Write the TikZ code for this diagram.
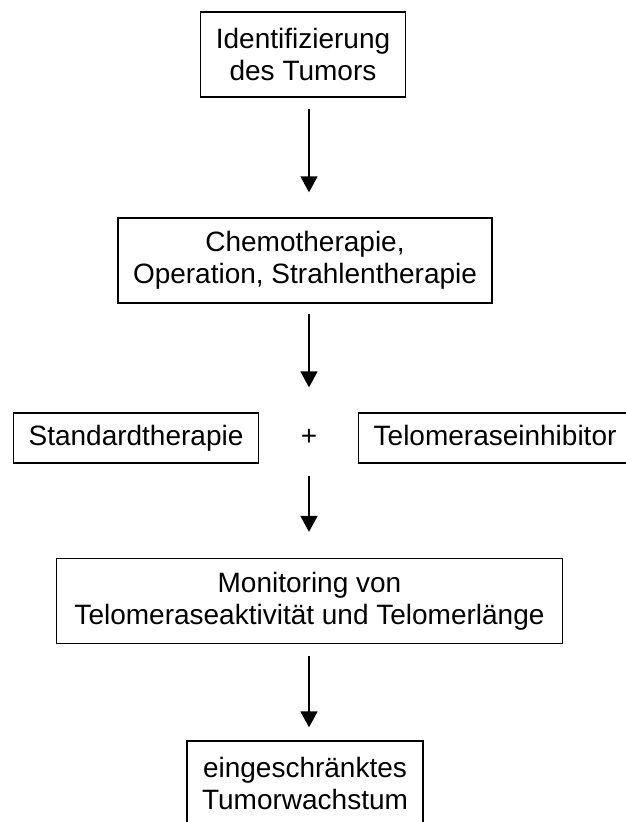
\documentclass[tikz,border=0pt]{standalone}
\usepackage{fontspec}
\setmainfont{Liberation Sans}
\usetikzlibrary{arrows.meta}

\tikzset{
    kasten/.style={draw, line width=1.3pt, align=center, inner xsep=15pt, inner ysep=0pt,
        font=\fontsize{28}{32}\selectfont},
    einzeilig/.style={kasten, minimum height=50pt, text height=20pt, text depth=6pt},
    pfeil/.style={-{Triangle[width=17pt,length=16pt]}, line width=1.5pt},
}

\begin{document}
\begin{tikzpicture}[x=1pt,y=-1pt]

    % Rahmen
    \useasboundingbox (0,0) rectangle (626,822);

    % Kaesten
    \node[kasten, minimum height=85pt] (ident) at (303,54.5) {Identifizierung\\des Tumors};
    \node[kasten, minimum height=85pt] (chemo) at (305,260.5) {Chemotherapie,\\Operation, Strahlentherapie};
    \node[einzeilig] (standard) at (136,438) {Standardtherapie};
    \node[font=\fontsize{28}{32}\selectfont, text height=20pt, text depth=6pt] (plus) at (309,438) {+};
    \node[einzeilig, anchor=west] (inhib) at (358,438) {Telomeraseinhibitor};
    \node[kasten, minimum height=85pt, inner xsep=18pt] (monitor) at (309.5,601) {Monitoring von\\Telomeraseaktivität und Telomerlänge};
    \node[kasten, minimum height=85pt] (result) at (305,783.5) {eingeschränktes\\Tumorwachstum};

    % Pfeile
    \foreach \von/\nach/\a/\b in {ident/chemo/11pt/25pt, chemo/standard/10pt/25pt,
        standard/monitor/12pt/26pt, monitor/result/12pt/13pt} {
        \draw[pfeil, shorten <=\a, shorten >=\b] (\von.south -| plus) -- (\nach.north -| plus);
    }

\end{tikzpicture}
\end{document}
